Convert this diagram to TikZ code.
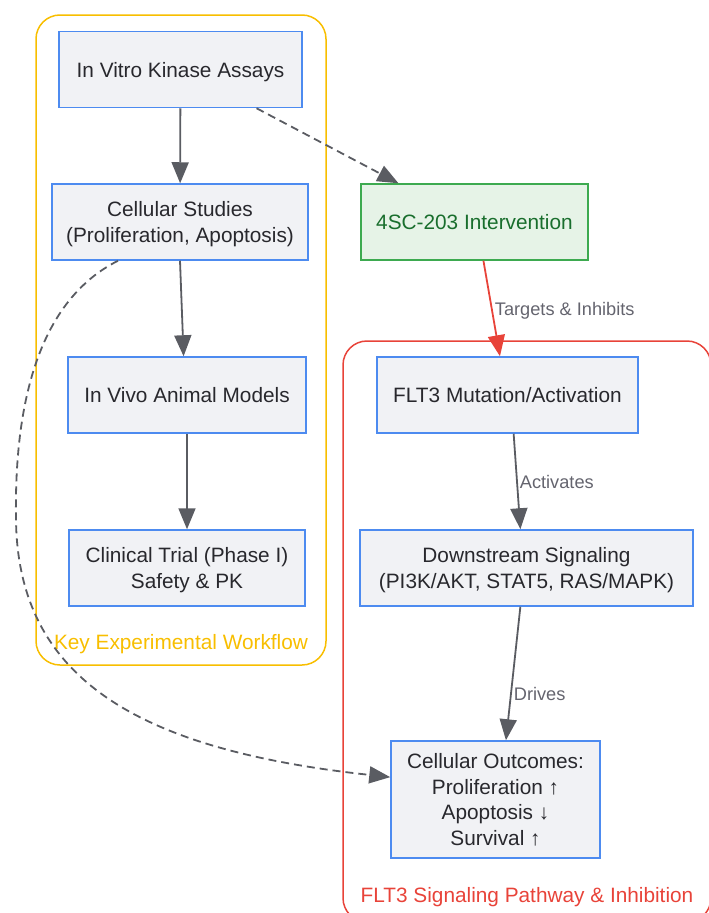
\documentclass[tikz,border=0pt]{standalone}
\usepackage{fontspec}
\setmainfont{Liberation Sans}
\usetikzlibrary{arrows.meta}
\definecolor{boxfill}{RGB}{241,242,245}
\definecolor{boxline}{RGB}{77,139,240}
\definecolor{greenfill}{RGB}{230,243,231}
\definecolor{greenline}{RGB}{61,170,80}
\definecolor{greentext}{RGB}{25,110,45}
\definecolor{redline}{RGB}{232,67,57}
\definecolor{yellowline}{RGB}{248,190,0}
\definecolor{edgegray}{RGB}{90,92,98}
\definecolor{labelgray}{RGB}{100,100,110}
\definecolor{ink}{RGB}{40,40,45}

\begin{document}
\begin{tikzpicture}[x=1pt, y=-1pt,
    box/.style = {draw=boxline, fill=boxfill, line width=1.5pt, text=ink, align=center,
                  font=\fontsize{20.8}{25.5}\selectfont, inner sep=0pt, text depth=0pt,
                  minimum height=76pt},
    drugbox/.style = {box, draw=greenline, fill=greenfill, text=greentext},
    group/.style = {rounded corners=24pt, line width=1.5pt},
    grouptitle/.style = {font=\fontsize{20.8}{25}\selectfont, inner sep=0pt},
    link/.style = {draw=edgegray, line width=1.8pt, -{Triangle[length=21pt, width=17pt]}},
    hint/.style = {link, dash pattern=on 8pt off 5pt},
    tag/.style = {text=labelgray, font=\fontsize{18.2}{22}\selectfont, right, inner sep=2pt}]
    \useasboundingbox (0,0) rectangle (709,913);

    % the two clusters
    \draw[group, draw=yellowline] (36,15) rectangle (326,665);
    \node[grouptitle, text=yellowline] (wftitle) at (181,644) {Key Experimental Workflow};
    \draw[group, draw=redline] (343,341) rectangle (711,922);
    \node[grouptitle, text=redline] (pwtitle) at (527,897) {FLT3 Signaling Pathway \& Inhibition};

    % workflow
    \node[box, minimum width=243pt] (vitro) at (180.5,69.5) {In Vitro Kinase Assays};
    \node[box, minimum width=256pt] (cells) at (180,222) {Cellular Studies\\(Proliferation, Apoptosis)};
    \node[box, minimum width=238pt] (vivo) at (187,395) {In Vivo Animal Models};
    \node[box, minimum width=236pt] (trial) at (187,568) {Clinical Trial (Phase I)\\Safety \& PK};

    % pathway
    \node[drugbox, minimum width=227pt] (drug) at (474.5,222) {4SC-203 Intervention};
    \node[box, minimum width=261pt] (flt) at (507.5,395) {FLT3 Mutation/Activation};
    \node[box, minimum width=333pt] (down) at (526.5,568) {Downstream Signaling\\(PI3K/AKT, STAT5, RAS/MAPK)};
    \node[box, minimum width=209pt, minimum height=117pt] (outcome) at (495.5,799.5)
        {Cellular Outcomes:\\Proliferation ↑\\Apoptosis ↓\\Survival ↑};

    \draw[link] (vitro) -- (cells);
    \draw[link] (cells.south) -- (vivo.95);
    \draw[link] (vivo) -- (trial);
    \draw[hint] (vitro.-27.3) -- (drug.153);
    \draw[link, draw=redline] (drug.-77.4) -- node[tag, pos=0.52] {Targets \& Inhibits} (flt.101.2);
    \draw[link] (flt.-81.8) -- node[tag, pos=0.5] {Activates} (down.99.7);
    \draw[link] (down.261.8) -- node[tag, pos=0.65] {Drives} (outcome.80.8);
    \draw[hint] (cells.212) .. controls (40,300) and (14,400) .. (16,520)
        .. controls (18,680) and (140,750) .. (outcome.168.4);
\end{tikzpicture}
\end{document}
